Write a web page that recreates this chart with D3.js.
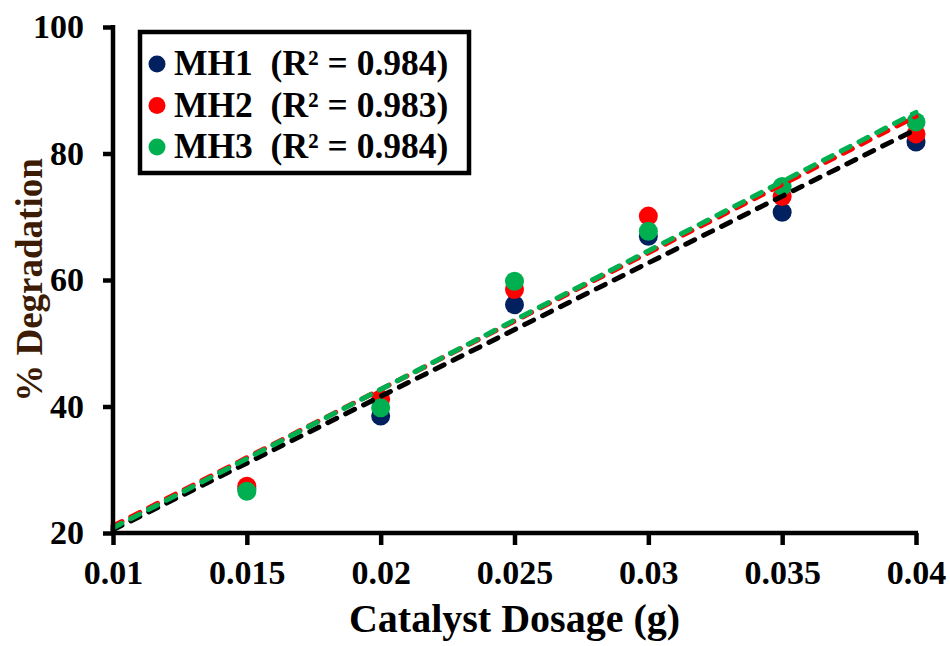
<!DOCTYPE html>
<html>
<head>
<meta charset="utf-8">
<script src="https://cdn.jsdelivr.net/npm/d3@7"></script>
<style>
  html, body { margin: 0; padding: 0; background: #fff; }
  svg { display: block; }
  text { font-family: "Liberation Serif", "Times New Roman", serif; font-weight: bold; }
</style>
</head>
<body>
<svg id="chart" width="950" height="646"></svg>
<script>
// ---- data ----
const dosage = [0.015, 0.02, 0.025, 0.03, 0.035, 0.04];
const mh1 = [27.0, 38.5, 56.1, 66.9, 70.7, 81.8];
const mh2 = [27.4, 41.2, 58.5, 70.1, 73.2, 83.1];
const mh3 = [26.6, 39.8, 59.8, 67.7, 74.8, 85.0];
const trendX = [0.01, 0.04];
const trendMH1 = [20.5, 83.8];
const trendMH2 = [21.1, 85.9];
const trendMH3 = [20.8, 86.5];
const xTicks = [0.01, 0.015, 0.02, 0.025, 0.03, 0.035, 0.04];
const xTickLabels = ["0.01", "0.015", "0.02", "0.025", "0.03", "0.035", "0.04"];
const yTicks = [20, 40, 60, 80, 100];
const yTickLabels = ["20", "40", "60", "80", "100"];
const seriesNames = ["MH1", "MH2", "MH3"];
const r2Labels = ["0.984", "0.983", "0.984"];

const pointColors = ["#002060", "#ff0000", "#00b050"];
const lineColors = ["#000000", "#ff0000", "#00b050"];

const svg = d3.select("#chart");
const x = d3.scaleLinear().domain([0.01, 0.04]).range([113, 916]);
const y = d3.scaleLinear().domain([20, 100]).range([533, 27]);

const series = [mh1, mh2, mh3];
const trends = [trendMH1, trendMH2, trendMH3];

// points (blue, red, green order)
series.forEach((vals, i) => {
  svg.append("g").selectAll("circle")
    .data(dosage.map((d, j) => [d, vals[j]]))
    .join("circle")
    .attr("cx", d => x(d[0]))
    .attr("cy", d => y(d[1]))
    .attr("r", 9.5)
    .attr("fill", pointColors[i]);
});

// trend lines on top
const line = d3.line().x(d => x(d[0])).y(d => y(d[1]));
trends.forEach((t, i) => {
  svg.append("path")
    .datum(trendX.map((xv, j) => [xv, t[j]]))
    .attr("d", line)
    .attr("fill", "none")
    .attr("stroke", lineColors[i])
    .attr("stroke-width", 5)
    .attr("stroke-linecap", "round")
    .attr("stroke-dasharray", "10,10");
});

// axes
const xAxis = d3.axisBottom(x).tickValues(xTicks)
  .tickFormat((d, i) => xTickLabels[i]).tickSizeOuter(0).tickSize(12).tickPadding(15);
const gx = svg.append("g").attr("transform", `translate(0,${y(20)})`).call(xAxis);
gx.select(".domain").attr("stroke", "#000").attr("stroke-width", 4.5).attr("d", `M${x(0.01)-2},0H${x(0.04)+2}`);
gx.selectAll(".tick line").attr("stroke", "#000").attr("stroke-width", 4.5);
gx.selectAll(".tick text").attr("fill", "#000").style("font-size", "34px")
  .style("font-family", '"Liberation Serif", serif').style("font-weight", "bold");

const yAxis = d3.axisLeft(y).tickValues(yTicks)
  .tickFormat((d, i) => yTickLabels[i]).tickSizeOuter(0).tickSize(10).tickPadding(19);
const gy = svg.append("g").attr("transform", `translate(${x(0.01)},0)`).call(yAxis);
gy.select(".domain").attr("stroke", "#000").attr("stroke-width", 4.5).attr("d", `M0,${y(100)-2}V${y(20)+2}`);
gy.selectAll(".tick line").attr("stroke", "#000").attr("stroke-width", 4.5);
gy.selectAll(".tick text").attr("fill", "#000").style("font-size", "34px")
  .style("font-family", '"Liberation Serif", serif').style("font-weight", "bold");

// axis titles
svg.append("text")
  .attr("x", (x(0.01) + x(0.04)) / 2).attr("y", 632)
  .attr("text-anchor", "middle")
  .style("font-size", "40px").attr("fill", "#000")
  .text("Catalyst Dosage (g)");

svg.append("text")
  .attr("transform", `translate(42,${(y(20) + y(100)) / 2}) rotate(-90)`)
  .attr("text-anchor", "middle")
  .style("font-size", "37px").attr("fill", "#3d1c06")
  .text("% Degradation");

// legend
const lg = svg.append("g");
lg.append("rect").attr("x", 140).attr("y", 32).attr("width", 329).attr("height", 141)
  .attr("fill", "#fff").attr("stroke", "#000").attr("stroke-width", 4.5);
seriesNames.forEach((name, i) => {
  const cy = 64 + i * 41.5;
  lg.append("circle").attr("cx", 157).attr("cy", cy).attr("r", 8.5).attr("fill", pointColors[i]);
  lg.append("text").attr("x", 174).attr("y", cy + 11)
    .style("font-size", "35.5px").attr("fill", "#000")
    .attr("xml:space", "preserve")
    .text(`${name}  (R² = ${r2Labels[i]})`);
});
</script>
</body>
</html>
